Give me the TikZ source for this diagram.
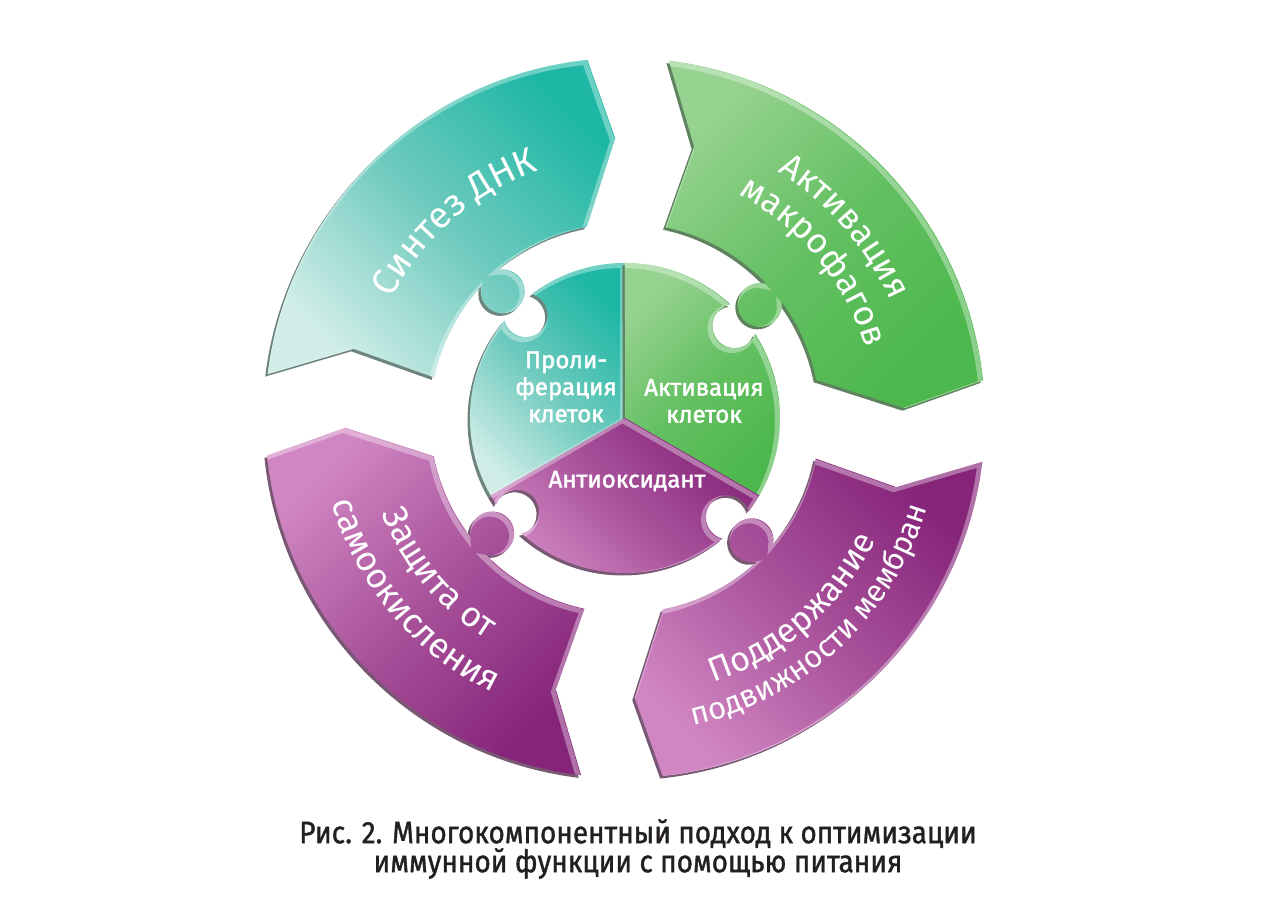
\documentclass[tikz,border=0pt]{standalone}
\usepackage{fontspec}
\usetikzlibrary{decorations.text}
\setmainfont{Fira Sans}
\newfontfamily\medfont[FakeBold=1.8]{Fira Sans}
\newfontfamily\capfont[FakeStretch=0.9,FakeBold=1.2]{Fira Sans}
\definecolor{tealD}{RGB}{30,183,165}
\definecolor{tealM}{RGB}{110,202,190}
\definecolor{tealL}{RGB}{208,237,232}
\definecolor{tealS}{RGB}{110,132,126}
\definecolor{greenD}{RGB}{76,183,76}
\definecolor{greenM}{RGB}{100,192,98}
\definecolor{greenL}{RGB}{150,210,144}
\definecolor{greenS}{RGB}{95,130,95}
\definecolor{purD}{RGB}{134,36,122}
\definecolor{purM}{RGB}{168,82,155}
\definecolor{purL}{RGB}{208,134,194}
\definecolor{purS}{RGB}{120,88,114}
\definecolor{capcol}{RGB}{35,31,32}
% outer segment: #1 rotation, #2 knob angle (absolute)
\newcommand\segpath[2]{({173+#1}:360pt) arc[start angle={173+#1}, end angle={96+#1}, radius=360pt]
 -- ({92+#1}:280pt) -- ({101.3+#1}:195pt)
 arc[start angle={101.3+#1}, end angle={#2-3.43}, radius=195pt]
 arc[start angle={#2-32.0}, end angle={#2-328.0}, radius=22pt]
 arc[start angle={#2+3.43}, end angle={168+#1}, radius=195pt]
 -- ({165.7+#1}:280pt) -- cycle}
\newcommand\ballhole[1]{arc[start angle={#1-60.6}, end angle={#1-299.4}, radius=22pt]}
\newcommand\tealin{(0,0) -- (90:155pt) arc[start angle=90, end angle=126.9, radius=155pt] \ballhole{134}
 arc[start angle=141.1, end angle=210, radius=155pt] -- cycle}
\newcommand\greenin{(0,0) -- (-30:155pt) arc[start angle=-30, end angle=32.9, radius=155pt] \ballhole{40}
 arc[start angle=47.1, end angle=90, radius=155pt] -- cycle}
\newcommand\purin{(0,0) -- (210:155pt) arc[start angle=210, end angle=213.9, radius=155pt] \ballhole{221}
 arc[start angle=228.1, end angle=308.9, radius=155pt] \ballhole{316}
 arc[start angle=323.1, end angle=330, radius=155pt] -- cycle}
\newcommand\piece[3]{%
 \fill[#2, xshift=-2.5pt, yshift=-2.5pt] #1;
 \shade[#3] #1;
 \begin{scope}\clip #1;
 \draw[white, opacity=.35, line width=5pt, xshift=-2.5pt, yshift=-2.5pt] #1;
 \end{scope}}
% text along arcs: #1 centre angle, #2 baseline radius, #3 font size, #4 text
\newcommand\cwtext[4]{\path[decorate, decoration={text along path, text align=center,
 text={|\color{white}\fontsize{#3}{#3}\selectfont|#4}}]
 ({#1+70}:#2pt) arc[start angle={#1+70}, end angle={#1-70}, radius=#2pt];}
\newcommand\ccwtext[4]{\path[decorate, decoration={text along path, text align=center,
 text={|\color{white}\fontsize{#3}{#3}\selectfont|#4}}]
 ({#1-70}:#2pt) arc[start angle={#1-70}, end angle={#1+70}, radius=#2pt];}
\tikzset{
 intxt/.style={text=white, font=\medfont\fontsize{24}{27}\selectfont, align=center, inner sep=0pt},
 captxt/.style={text=capcol, font=\capfont\fontsize{31}{29}\selectfont, align=center, inner sep=0pt}
}
\begin{document}
\begin{tikzpicture}[x=1pt,y=1pt]
\useasboundingbox (0,0) rectangle (1280,906);
\fill[white] (0,0) rectangle (1280,906);
\begin{scope}[shift={(625,488)}]
 % outer ring
 \piece{\segpath{0}{134}}{tealS}{top color=tealD, bottom color=tealL, middle color=tealM, shading angle=-45}
 \piece{\segpath{-90}{40}}{greenS}{top color=greenL, bottom color=greenD, middle color=greenM, shading angle=45}
 \piece{\segpath{-180}{-44}}{purS}{top color=purD, bottom color=purL, middle color=purM, shading angle=-45}
 \piece{\segpath{-270}{-139}}{purS}{top color=purL, bottom color=purD, middle color=purM, shading angle=45}
 % inner circle
 \piece{\tealin}{tealS}{top color=tealD, bottom color=tealL, middle color=tealM, shading angle=-45}
 \piece{\greenin}{greenS}{top color=greenL, bottom color=greenD, middle color=greenM, shading angle=45}
 \piece{\purin}{purS}{top color=purD, bottom color=purL, middle color=purM, shading angle=-45}
 % outer labels along arcs
 \cwtext{131}{262}{37}{Синтез ДНК}
 \cwtext{41}{290}{35}{Активация}
 \cwtext{39.6}{250}{35}{макрофагов}
 \ccwtext{219.7}{261}{35}{Защита от}
 \ccwtext{220.2}{305}{35}{самоокисления}
 \ccwtext{-48.7}{279}{34}{Поддержание}
 \ccwtext{-47}{315}{31}{подвижности мембран}
 % inner labels
 \node[intxt] (i1) at (-59,31) {Проли-\\ферация\\клеток};
 \node[intxt] (i2) at (79,17) {Активация\\клеток};
 \node[intxt] (i3) at (2,-63) {Антиоксидант};
\end{scope}
\node[captxt] (cap) at (638,57) {Рис. 2. Многокомпонентный подход к оптимизации\\иммунной функции с помощью питания};
\end{tikzpicture}
\end{document}
